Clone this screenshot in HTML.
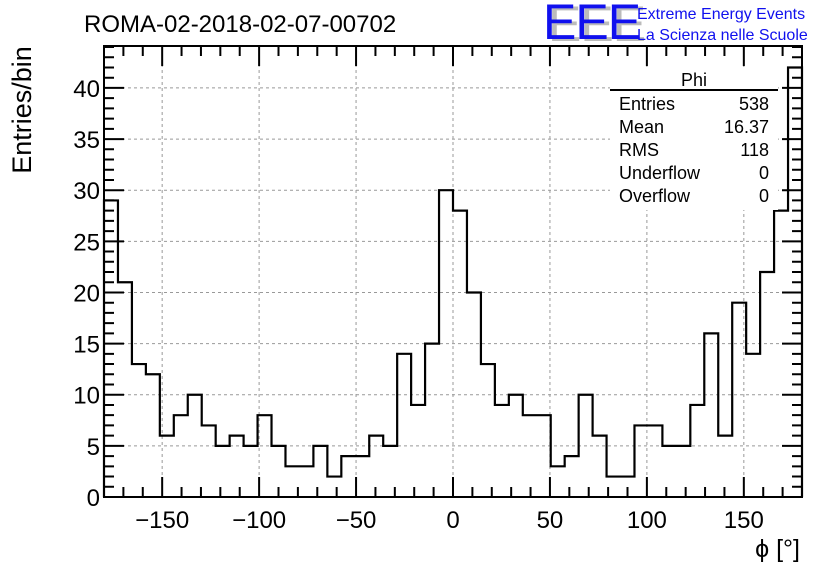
<!DOCTYPE html>
<html><head><meta charset="utf-8"><style>
body{margin:0;background:#fff;}
svg{display:block;font-family:"Liberation Sans",Arial,sans-serif;}
</style></head><body>
<svg id="chart" width="836" height="572" viewBox="0 0 836 572" xmlns="http://www.w3.org/2000/svg">
<rect width="836" height="572" fill="#fff"/>
<g id="grid"></g>
<g id="ticks"></g>
<path id="hist" fill="none" stroke="#000" stroke-width="2.2"/>
<rect x="104" y="46" width="698" height="451" fill="none" stroke="#000" stroke-width="2"/>
<g id="labels" font-size="24" fill="#000"></g>
<text x="84" y="32" font-size="24">ROMA-02-2018-02-07-00702</text>
<text transform="translate(31,110) rotate(-90)" text-anchor="middle" font-size="27">Entries/bin</text>
<text x="800" y="557" text-anchor="end" font-size="25">ϕ [°]</text>
<g>
<text x="548" y="41" font-size="50" fill="#bbb" letter-spacing="-1">EEE</text>
<text x="543" y="39" font-size="50" fill="#1010ee" letter-spacing="-1">EEE</text>
<text x="637" y="19" font-size="16" fill="#1010ee">Extreme Energy Events</text>
<text x="637" y="40" font-size="16" fill="#1010ee">La Scienza nelle Scuole</text>
</g>
<g font-size="18">
<rect x="610" y="70" width="168" height="140" fill="#fff"/>
<text x="694" y="86" text-anchor="middle">Phi</text>
<line x1="610" y1="90" x2="778" y2="90" stroke="#000" stroke-width="2"/>
<text x="619" y="110">Entries</text><text x="769" y="110" text-anchor="end">538</text>
<text x="619" y="133">Mean</text><text x="769" y="133" text-anchor="end">16.37</text>
<text x="619" y="156">RMS</text><text x="769" y="156" text-anchor="end">118</text>
<text x="619" y="179">Underflow</text><text x="769" y="179" text-anchor="end">0</text>
<text x="619" y="202">Overflow</text><text x="769" y="202" text-anchor="end">0</text>
</g>
</svg>
<script>
const counts = [29,21,13,12,6,8,10,7,5,6,5,8,5,3,3,5,2,4,4,6,5,14,9,15,30,28,20,13,9,10,8,8,3,4,10,6,2,2,7,7,5,5,9,16,6,19,14,22,28,42];
const xMin = -180, xMax = 180, yMin = 0, yMax = 44.1;
const xTicks = [-150,-100,-50,0,50,100,150];
const yTicks = [0,5,10,15,20,25,30,35,40];
const X0=104, X1=802, Y0=497, Y1=46;
const ns="http://www.w3.org/2000/svg";
function sx(v){return X0+(v-xMin)/(xMax-xMin)*(X1-X0);}
function sy(v){return Y0-(v-yMin)/(yMax-yMin)*(Y0-Y1);}
function mk(t,a,p){const e=document.createElementNS(ns,t);for(const k in a)e.setAttribute(k,a[k]);p.appendChild(e);return e;}
const grid=document.getElementById('grid'),ticks=document.getElementById('ticks'),labels=document.getElementById('labels');
xTicks.forEach(v=>{
  const g=mk('line',{x1:sx(v),x2:sx(v),y1:Y1,y2:Y0,stroke:'#999','stroke-dasharray':'3,3','stroke-width':1},grid);
  
  
  const t=mk('text',{x:sx(v),y:Y0+31,'text-anchor':'middle'},labels);
  t.textContent=v<0?'\u2212'+Math.abs(v):String(v);
  
  
});
yTicks.forEach(v=>{
  if(v>0){const g=mk('line',{x1:X0,x2:X1,y1:sy(v),y2:sy(v),stroke:'#999','stroke-dasharray':'3,3','stroke-width':1},grid);
  
  }
  const t=mk('text',{x:X0-4,y:sy(v)+9,'text-anchor':'end'},labels);
  t.textContent=String(v);
  
  
});
let td='';
for(let v=-180;v<=180;v+=10){const L=(v%50===0)?20:10;const x=sx(v);td+=`M${x},${Y0}v${-L}M${x},${Y1}v${L}`;}
for(let v=0;v<=44;v+=1){const L=(v%5===0)?20:10;const y=sy(v);td+=`M${X0},${y}h${L}M${X1},${y}h${-L}`;}
mk('path',{d:td,stroke:'#000','stroke-width':2,fill:'none'},ticks);
const w=(xMax-xMin)/counts.length;
let d=`M${sx(xMin)},${sy(0)}`;
counts.forEach((c,i)=>{d+=`L${sx(xMin+i*w)},${sy(c)}L${sx(xMin+(i+1)*w)},${sy(c)}`;});
d+=`L${sx(xMax)},${sy(0)}`;
document.getElementById('hist').setAttribute('d',d);
</script>
</body></html>
